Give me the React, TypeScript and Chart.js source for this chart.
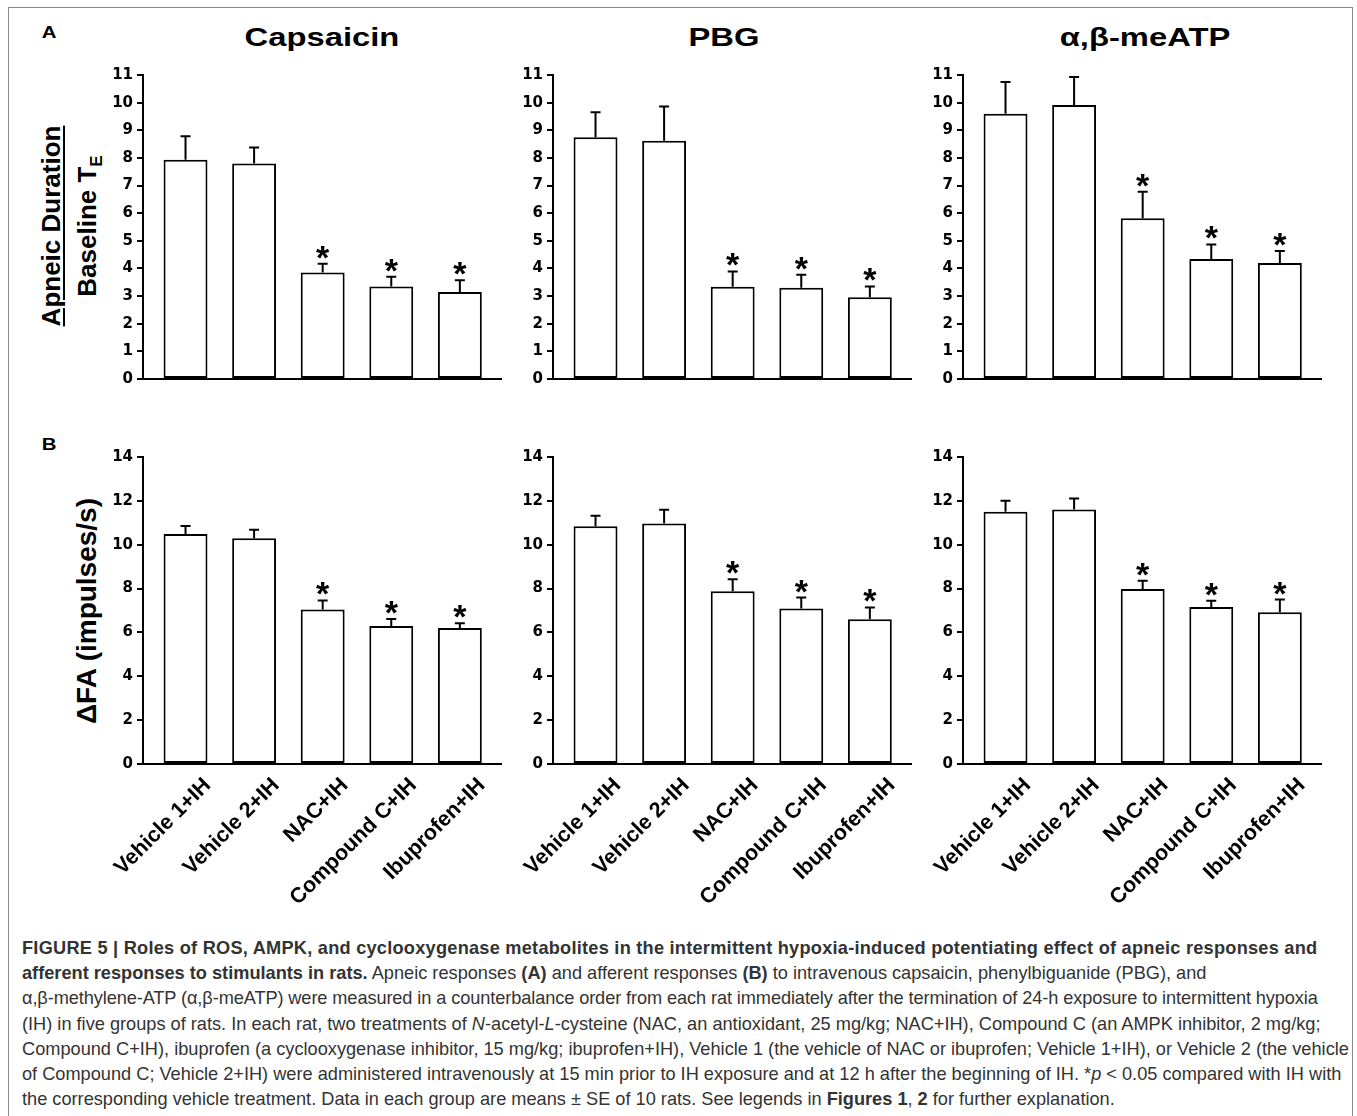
import React, { useEffect, useRef } from 'react';
import { Chart, registerables } from 'chart.js';

Chart.register(...registerables);

// ---------- data ----------
const categories = ['Vehicle 1+IH', 'Vehicle 2+IH', 'NAC+IH', 'Compound C+IH', 'Ibuprofen+IH'];
const significant = [false, false, true, true, true];
const stimulusTitles = ['Capsaicin', 'PBG', 'α,β-meATP'];

// Panel A: apneic duration / baseline TE (mean, SE)
const capsaicinApneaMean = [7.93, 7.8, 3.85, 3.35, 3.15];
const capsaicinApneaSE = [0.85, 0.58, 0.32, 0.35, 0.42];
const pbgApneaMean = [8.75, 8.62, 3.34, 3.3, 2.96];
const pbgApneaSE = [0.9, 1.24, 0.55, 0.47, 0.39];
const meatpApneaMean = [9.6, 9.91, 5.82, 4.34, 4.2];
const meatpApneaSE = [1.15, 1.02, 0.96, 0.53, 0.43];

// Panel B: ΔFA (impulses/s) (mean, SE)
const capsaicinFAMean = [10.49, 10.3, 7.04, 6.29, 6.2];
const capsaicinFASE = [0.36, 0.38, 0.42, 0.32, 0.22];
const pbgFAMean = [10.84, 10.97, 7.88, 7.09, 6.6];
const pbgFASE = [0.48, 0.63, 0.55, 0.5, 0.54];
const meatpFAMean = [11.5, 11.61, 7.98, 7.16, 6.92];
const meatpFASE = [0.5, 0.5, 0.38, 0.28, 0.58];

const panelAAxis = { max: 11, step: 1 };
const panelBAxis = { max: 14, step: 2 };

// ---------- layout ----------
const AXIS_X = [143, 553, 963];
const ROW_TOP = [75, 457];
const PLOT_W = 358;
const PLOT_H = 307;
const PAD_LEFT = 65;
const PAD_TOP = 15;
const PAD_RIGHT = 8;

function makeErrorPlugin(mean: number[], se: number[], sig: boolean[]) {
  return {
    id: 'errorBars',
    afterDatasetsDraw(chart: any) {
      const { ctx } = chart;
      const meta = chart.getDatasetMeta(0);
      const yScale = chart.scales.y;
      ctx.save();
      ctx.strokeStyle = '#000';
      ctx.fillStyle = '#000';
      ctx.lineWidth = 2;
      meta.data.forEach((bar: any, i: number) => {
        const x = bar.x;
        const yTop = yScale.getPixelForValue(mean[i] + se[i]);
        ctx.beginPath();
        ctx.moveTo(x, bar.y);
        ctx.lineTo(x, yTop);
        ctx.moveTo(x - 5, yTop);
        ctx.lineTo(x + 5, yTop);
        ctx.stroke();
        if (sig[i]) {
          ctx.font = 'bold 34px "Liberation Sans", Arial, sans-serif';
          ctx.textAlign = 'center';
          ctx.textBaseline = 'alphabetic';
          ctx.fillText('*', x, yTop + 5);
        }
      });
      ctx.restore();
    },
  };
}

function BarPanel(props: {
  axisX: number;
  chartTop: number;
  mean: number[];
  se: number[];
  axis: { max: number; step: number };
  showLabels: boolean;
}) {
  const { axisX, chartTop, mean, se, axis, showLabels } = props;
  const ref = useRef<HTMLCanvasElement>(null);
  const xAxisH = showLabels ? 150 : 10;
  const width = PAD_LEFT + PLOT_W + PAD_RIGHT;
  const height = PAD_TOP + PLOT_H + xAxisH;

  useEffect(() => {
    if (!ref.current) return;
    const chart = new Chart(ref.current, {
      type: 'bar',
      data: {
        datasets: [
          {
            data: mean.map((v, i) => ({ x: i, y: v })),
            backgroundColor: '#fff',
            borderColor: '#000',
            borderWidth: 2,
            borderSkipped: false,
            barPercentage: 0.64,
            categoryPercentage: 1,
          } as any,
        ],
      },
      options: {
        responsive: false,
        animation: false,
        devicePixelRatio: 1,
        events: [],
        layout: { padding: { top: PAD_TOP, right: PAD_RIGHT, left: 0, bottom: 0 } },
        plugins: { legend: { display: false }, tooltip: { enabled: false } },
        scales: {
          x: {
            type: 'linear',
            min: -0.62,
            max: 4.6,
            offset: false,
            grid: { display: false, offset: false },
            border: { display: true, color: '#000', width: 2 },
            afterBuildTicks: (s: any) => {
              s.ticks = categories.map((_, i) => ({ value: i }));
            },
            afterFit: (s: any) => {
              s.height = xAxisH;
            },
            ticks: {
              display: showLabels,
              autoSkip: false,
              minRotation: 45,
              maxRotation: 45,
              labelOffset: 22,
              padding: 1,
              color: '#000',
              font: { family: '"Liberation Sans", Arial, sans-serif', weight: 'bold', size: 21.5 },
              callback: (v: any) => categories[Math.round(Number(v))],
            },
          },
          y: {
            min: 0,
            max: axis.max,
            afterFit: (s: any) => {
              s.width = PAD_LEFT;
            },
            grid: {
              display: true,
              drawOnChartArea: false,
              drawTicks: true,
              tickLength: 6,
              color: '#000',
              lineWidth: 2,
            },
            border: { display: true, color: '#000', width: 2 },
            ticks: {
              stepSize: axis.step,
              padding: 4,
              color: '#000',
              font: { family: '"DejaVu Sans", sans-serif', weight: 'bold', size: 15 },
            },
          },
        },
      } as any,
      plugins: [makeErrorPlugin(mean, se, significant) as any],
    });
    return () => chart.destroy();
  }, []);

  return (
    <canvas
      ref={ref}
      width={width}
      height={height}
      style={{ position: 'absolute', left: axisX - PAD_LEFT, top: chartTop - PAD_TOP, width, height }}
    />
  );
}

const FONT = '"Liberation Sans", Arial, sans-serif';

function Label(props: { x: number; y: number; size: number; text: React.ReactNode; sx?: number; rotate?: number; style?: React.CSSProperties }) {
  const { x, y, size, text, sx = 1, rotate = 0, style } = props;
  return (
    <div
      style={{
        position: 'absolute',
        left: x,
        top: y,
        transform: `translate(-50%, -50%) rotate(${rotate}deg) scaleX(${sx})`,
        whiteSpace: 'nowrap',
        fontFamily: FONT,
        fontWeight: 'bold',
        fontSize: size,
        lineHeight: 1,
        color: '#000',
        ...style,
      }}
    >
      {text}
    </div>
  );
}

const captionLines: React.ReactNode[] = [
  <b style={{ letterSpacing: '0.24px' }}>
    FIGURE 5 | Roles of ROS, AMPK, and cyclooxygenase metabolites in the intermittent hypoxia-induced potentiating effect of apneic responses and
  </b>,
  <>
    <b>afferent responses to stimulants in rats.</b> Apneic responses <b>(A)</b> and afferent responses <b>(B)</b> to intravenous capsaicin, phenylbiguanide (PBG), and
  </>,
  <span style={{ letterSpacing: '-0.1px' }}>
    α,β-methylene-ATP (α,β-meATP) were measured in a counterbalance order from each rat immediately after the termination of 24-h exposure to intermittent hypoxia
  </span>,
  <>
    (IH) in five groups of rats. In each rat, two treatments of <i>N</i>-acetyl-<i>L</i>-cysteine (NAC, an antioxidant, 25 mg/kg; NAC+IH), Compound C (an AMPK inhibitor, 2 mg/kg;
  </>,
  <>Compound C+IH), ibuprofen (a cyclooxygenase inhibitor, 15 mg/kg; ibuprofen+IH), Vehicle 1 (the vehicle of NAC or ibuprofen; Vehicle 1+IH), or Vehicle 2 (the vehicle</>,
  <>
    of Compound C; Vehicle 2+IH) were administered intravenously at 15 min prior to IH exposure and at 12 h after the beginning of IH. *<i>p</i> &lt; 0.05 compared with IH with
  </>,
  <>
    the corresponding vehicle treatment. Data in each group are means ± SE of 10 rats. See legends in <b>Figures 1</b>, <b>2</b> for further explanation.
  </>,
];

export default function App() {
  const apnea = [
    [capsaicinApneaMean, capsaicinApneaSE],
    [pbgApneaMean, pbgApneaSE],
    [meatpApneaMean, meatpApneaSE],
  ];
  const fa = [
    [capsaicinFAMean, capsaicinFASE],
    [pbgFAMean, pbgFASE],
    [meatpFAMean, meatpFASE],
  ];
  const titleX = [322, 724, 1145];
  return (
    <div style={{ position: 'absolute', left: 0, top: 0, width: 1357, height: 1116, overflow: 'hidden', background: '#fff' }}>
      <style>{'html,body{overflow:hidden;}'}</style>
      <div
        style={{
          position: 'absolute',
          left: 8,
          top: 7,
          width: 1345,
          height: 1120,
          boxSizing: 'border-box',
          border: '1.5px solid #8a8a8a',
        }}
      />
      <Label x={49} y={32} size={17} sx={1.2} text="A" />
      <Label x={49} y={444} size={17} sx={1.2} text="B" />
      {stimulusTitles.map((t, i) => (
        <Label key={t} x={titleX[i]} y={37} size={26} sx={1.26} text={t} />
      ))}
      {/* Row A y title */}
      <div
        style={{
          position: 'absolute',
          left: 71,
          top: 226,
          transform: 'translate(-50%, -50%) rotate(-90deg)',
          whiteSpace: 'nowrap',
          fontFamily: FONT,
          fontWeight: 'bold',
          fontSize: 26,
          lineHeight: '36px',
          textAlign: 'center',
          color: '#000',
        }}
      >
        <div style={{ textDecoration: 'underline', textDecorationThickness: 2, textUnderlineOffset: 3 }}>Apneic Duration</div>
        <div>
          Baseline T<span style={{ fontSize: 17, position: 'relative', top: 6 }}>E</span>
        </div>
      </div>
      {/* Row B y title */}
      <Label x={87} y={611} size={28} rotate={-90} text="ΔFA (impulses/s)" />

      {apnea.map(([m, s], i) => (
        <BarPanel key={'a' + i} axisX={AXIS_X[i]} chartTop={ROW_TOP[0]} mean={m} se={s} axis={panelAAxis} showLabels={false} />
      ))}
      {fa.map(([m, s], i) => (
        <BarPanel key={'b' + i} axisX={AXIS_X[i]} chartTop={ROW_TOP[1]} mean={m} se={s} axis={panelBAxis} showLabels={true} />
      ))}

      <div
        style={{
          position: 'absolute',
          left: 22,
          top: 936,
          fontFamily: FONT,
          fontSize: 18.2,
          lineHeight: '25.2px',
          color: '#333',
        }}
      >
        {captionLines.map((l, i) => (
          <div key={i} style={{ whiteSpace: 'nowrap' }}>
            {l}
          </div>
        ))}
      </div>
    </div>
  );
}
